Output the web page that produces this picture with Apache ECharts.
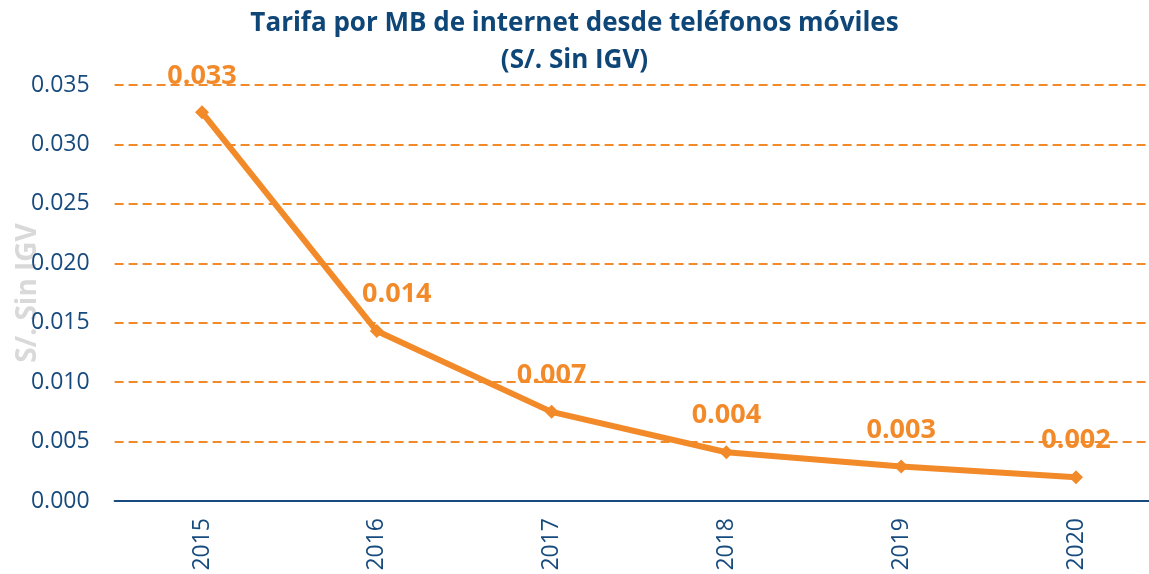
<!DOCTYPE html>
<html>
<head>
<meta charset="utf-8">
<script src="https://cdn.jsdelivr.net/npm/echarts@6/dist/echarts.min.js"></script>
<style>
  html, body { margin: 0; padding: 0; background: #fff; }
  #chart { width: 1149px; height: 574px; }
</style>
</head>
<body>
<div id="chart"></div>
<script>
var years = ["2015", "2016", "2017", "2018", "2019", "2020"];
var tarifa = [0.0327, 0.0143, 0.0075, 0.0041, 0.0029, 0.0020];
var yTicks = { min: 0, max: 0.035, interval: 0.005 };

var orange = "#F28A2A";
var navy = "#174B7D";

var chart = echarts.init(document.getElementById("chart"));

var option = {
  backgroundColor: "#fff",
  animation: false,
  title: {
    text: "Tarifa por MB de internet desde teléfonos móviles\n(S/. Sin IGV)",
    left: "center",
    top: 0,
    textStyle: {
      color: "#0E4677",
      fontFamily: "Open Sans",
      fontWeight: "bold",
      fontSize: 26,
      lineHeight: 37
    }
  },
  grid: {
    left: 114.6,
    right: -14.4,
    top: 85,
    bottom: 73,
    outerBoundsMode: "none"
  },
  xAxis: {
    type: "category",
    data: years,
    boundaryGap: true,
    axisLine: { show: true, lineStyle: { color: navy, width: 2 } },
    axisTick: { show: false },
    axisLabel: {
      rotate: 90,
      margin: 17,
      color: navy,
      fontFamily: "Open Sans",
      fontSize: 23
    }
  },
  yAxis: {
    type: "value",
    min: yTicks.min,
    max: yTicks.max,
    interval: yTicks.interval,
    name: "S/. Sin IGV",
    nameLocation: "middle",
    nameGap: 73,
    nameMoveOverlap: false,
    nameTextStyle: {
      color: "#D9D9D9",
      fontFamily: "Open Sans",
      fontWeight: "bold",
      fontSize: 28
    },
    axisLine: { show: false },
    axisTick: { show: false },
    axisLabel: {
      margin: 25,
      color: navy,
      fontFamily: "Open Sans",
      fontSize: 23,
      formatter: function (v) { return v.toFixed(3); }
    },
    splitLine: {
      show: true,
      lineStyle: { color: orange, width: 2, type: [9, 5] }
    }
  },
  series: [
    {
      type: "line",
      data: tarifa.map(function (v, i) {
        var d = { value: v };
        if (i === 1) d.label = { offset: [20, 0] };
        return d;
      }),
      symbol: "diamond",
      symbolSize: 14,
      lineStyle: { color: orange, width: 6 },
      itemStyle: { color: orange },
      label: {
        show: true,
        position: "top",
        distance: 16,
        color: orange,
        fontFamily: "Open Sans",
        fontWeight: "bold",
        fontSize: 27,
        formatter: function (p) { return p.value.toFixed(3); }
      }
    }
  ]
};

chart.setOption(option);
</script>
</body>
</html>
